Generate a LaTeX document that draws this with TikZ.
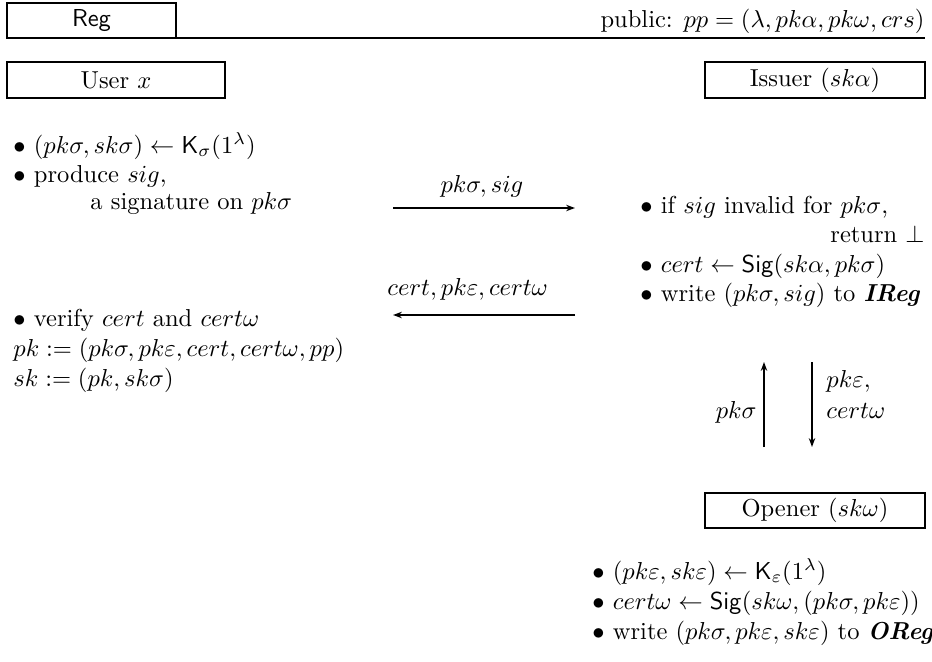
\documentclass[tikz,border=0pt]{standalone}
\usepackage{amsmath,amssymb}
\usetikzlibrary{arrows.meta}
\begin{document}
\begin{tikzpicture}[x=0.408pt,y=-0.408pt,
  box/.style={draw,line width=0.8pt,inner sep=0pt},
  txt/.style={inner sep=0pt,anchor=base west},
  txtr/.style={inner sep=0pt,anchor=base east},
  msg/.style={line width=0.8pt,-{Stealth[length=3.6pt,width=2.6pt]}}]
\useasboundingbox (0,0) rectangle (932,662);
% header
\draw[box] (7,3) rectangle (176,38);
\node[inner sep=0pt] (reg) at (91.5,20.5) {\sffamily Reg};
\coordinate (hl) at (176,38);
\coordinate (hr) at (925,38);
\draw[line width=0.8pt] (hl) -- (hr);
\node[txtr] (pub) at (925,27) {public: $pp=(\lambda,pk\alpha,pk\omega,crs)$};
% party boxes
\draw[box] (7,62) rectangle (225,98);
\node[inner sep=0pt] (user) at (116,80) {User $x$};
\draw[box] (705,62) rectangle (925,98);
\node[inner sep=0pt] (issuer) at (815,80) {Issuer ($sk\alpha$)};
% user lines
\node[txt] (u1) at (13,153) {$\bullet$ $(pk\sigma,sk\sigma)\leftarrow\mathsf{K}_\sigma(1^\lambda)$};
\node[txt] (u2) at (13,182) {$\bullet$ produce $sig$,};
\node[txt] (u3) at (90,209) {a signature on $pk\sigma$};
% message 1
\coordinate (m1s) at (393,208);
\coordinate (m1e) at (575,208);
\draw[msg] (m1s) -- (m1e);
\node[inner sep=0pt,anchor=base] (m1l) at (482,192) {$pk\sigma, sig$};
% issuer lines
\node[txt] (i1) at (640,213) {$\bullet$ if $sig$ invalid for $pk\sigma$,};
\node[txtr] (i2) at (925,242) {return $\bot$};
\node[txt] (i3) at (640,272) {$\bullet$ $cert\leftarrow\mathsf{Sig}(sk\alpha,pk\sigma)$};
\node[txt] (i4) at (640,301) {$\bullet$ write $(pk\sigma,sig)$ to \textbf{\textit{IReg}}};
% message 2
\coordinate (m2s) at (575,315);
\coordinate (m2e) at (393,315);
\draw[msg] (m2s) -- (m2e);
\node[txt] (m2l) at (387,295) {$cert, pk\varepsilon, cert\omega$};
% user lines 2
\node[txt] (u4) at (13,326) {$\bullet$ verify $cert$ and $cert\omega$};
\node[txt] (u5) at (13,356) {$pk:=(pk\sigma,pk\varepsilon,cert,cert\omega,pp)$};
\node[txt] (u6) at (13,386) {$sk:=(pk,sk\sigma)$};
% vertical messages
\coordinate (vu1) at (764,447);
\coordinate (vu2) at (764,362);
\coordinate (vd1) at (812,362);
\coordinate (vd2) at (812,447);
\draw[msg] (vu1) -- (vu2);
\draw[msg] (vd1) -- (vd2);
\node[txtr] (vl) at (757,418) {$pk\sigma$};
\node[txt] (vr1) at (826,387) {$pk\varepsilon,$};
\node[txt] (vr2) at (826,418) {$cert\omega$};
% opener
\draw[box] (705,493) rectangle (925,528);
\node[inner sep=0pt] (opener) at (815,510.5) {Opener ($sk\omega$)};
\node[txt] (o1) at (592,579) {$\bullet$ $(pk\varepsilon,sk\varepsilon)\leftarrow\mathsf{K}_\varepsilon(1^\lambda)$};
\node[txt] (o2) at (592,609) {$\bullet$ $cert\omega\leftarrow\mathsf{Sig}(sk\omega,(pk\sigma,pk\varepsilon))$};
\node[txt] (o3) at (592,639) {$\bullet$ write $(pk\sigma,pk\varepsilon,sk\varepsilon)$ to \textbf{\textit{OReg}}};
\end{tikzpicture}
\end{document}
